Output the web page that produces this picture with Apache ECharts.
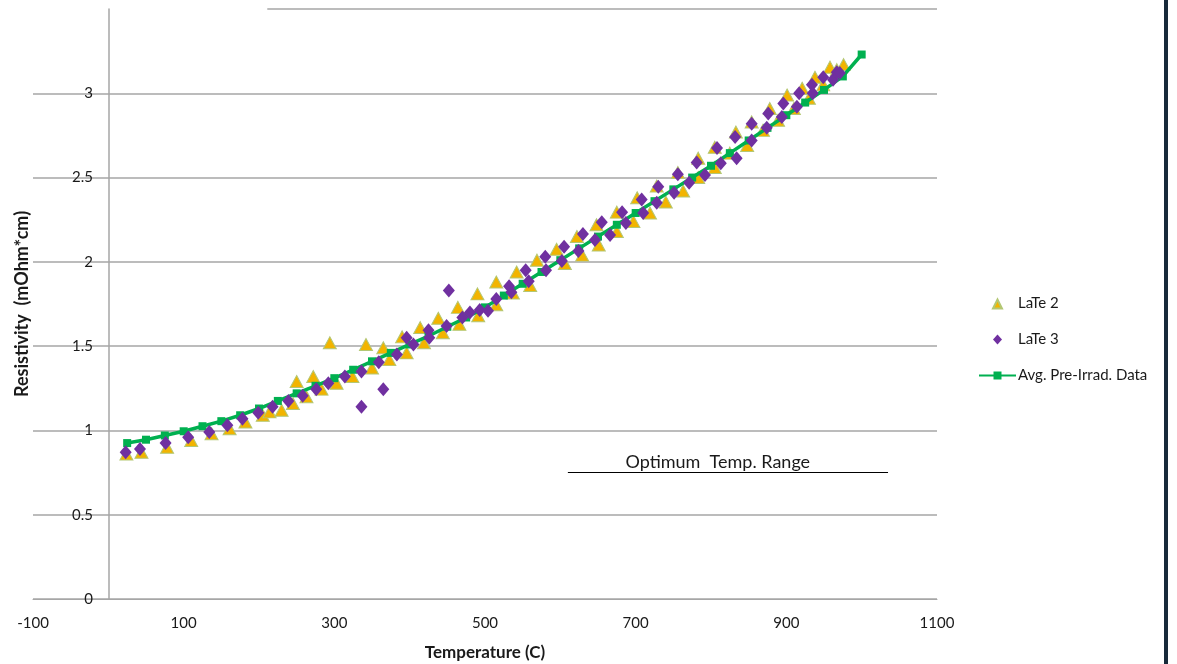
<!DOCTYPE html>
<html>
<head>
<meta charset="utf-8">
<script src="https://cdn.jsdelivr.net/npm/echarts@6/dist/echarts.min.js"></script>
<style>
html,body{margin:0;padding:0;background:#fff;}
#chart{width:1177px;height:664px;}
</style>
</head>
<body>
<div id="chart"></div>
<script>
// Tick settings
var xTicks = {min: -100, max: 1100, interval: 200};
var yTicks = {min: 0, max: 3.5, interval: 0.5};

// LaTe 2 (triangles): [temperature C, resistivity mOhm*cm]
var late2 = [
  [24,0.86],[44,0.87],[78,0.90],[110,0.94],[137,0.98],[161,1.01],[182,1.05],[205,1.09],
  [214,1.11],[230,1.12],[245,1.16],[250,1.29],[263,1.20],[272,1.32],[283,1.245],[294,1.52],
  [303,1.28],[324,1.32],[342,1.51],[350,1.37],[365,1.49],[373,1.42],
  [390,1.555],[396,1.46],[414,1.61],[419,1.52],[438,1.665],[444,1.58],[464,1.73],[466,1.63],
  [490,1.81],[491,1.68],[515,1.88],[515,1.745],[537,1.815],[542,1.94],[560,1.86],[569,2.01],
  [595,2.075],[606,1.99],[622,2.15],[629,2.04],[648,2.22],[651,2.10],[675,2.295],[675,2.18],
  [697,2.24],[702,2.38],
  [719,2.29],[728,2.45],[740,2.355],[756,2.53],[763,2.42],[783,2.615],[783,2.50],[805,2.68],
  [805,2.56],[825,2.645],[833,2.77],[848,2.69],[854,2.83],[869,2.78],[878,2.91],[889,2.84],
  [901,2.99],[910,2.91],[921,3.03],[930,2.97],[938,3.095],[949,3.05],[958,3.155],[967,3.14],
  [976,3.17]
];

// LaTe 3 (diamonds)
var late3 = [
  [23,0.87],[42,0.89],[76,0.925],[106,0.96],[134,0.99],[158,1.03],[178,1.07],[199,1.105],
  [218,1.14],[239,1.175],[258,1.205],[276,1.245],[292,1.28],[314,1.32],[336,1.35],[336,1.14],
  [359,1.405],[365,1.245],[383,1.45],
  [396,1.55],[405,1.51],[425,1.595],[426,1.55],[449,1.62],[452,1.83],[470,1.67],[480,1.70],
  [493,1.715],[504,1.71],[515,1.78],[532,1.855],[535,1.82],[554,1.95],[558,1.885],[580,2.03],
  [581,1.95],[602,2.005],[605,2.09],[624,2.065],[630,2.165],[646,2.13],[655,2.235],[666,2.16],
  [682,2.295],[687,2.23],[708,2.37],[710,2.29],
  [728,2.35],[730,2.445],[751,2.41],[756,2.52],[771,2.47],[781,2.59],[792,2.515],[808,2.675],
  [813,2.585],[832,2.74],[834,2.615],[854,2.82],[854,2.72],[874,2.795],[876,2.88],[894,2.86],
  [896,2.94],[914,2.92],[917,3.0],[934,3.05],[935,3.0],[949,3.095],[962,3.08],[967,3.125],
  [971,3.12]
];

// Avg. Pre-Irrad. Data
var avgT = [25,50,75,100,125,150,175,200,225,250,275,300,325,350,375,400,425,450,475,500,
            525,550,575,600,625,650,675,700,725,750,775,800,825,850,875,900,925,950,975,1000];
var avgR = [0.925,0.945,0.97,0.995,1.025,1.055,1.09,1.13,1.175,1.22,1.265,1.31,1.36,1.41,1.46,1.51,1.56,1.615,1.67,1.73,
            1.80,1.87,1.94,2.01,2.08,2.15,2.22,2.29,2.36,2.43,2.50,2.57,2.645,2.72,2.795,2.87,2.945,3.02,3.10,3.23];

// Annotation: optimum temperature range
var optRange = {from: 610, to: 1035, level: 0.75, labelAt: 809, text: 'Optimum  Temp. Range'};
// Partial top gridline in the reference
var topLine = {from: 211, to: 1100, level: 3.5};

var avgData = avgT.map(function(t, i){ return [t, avgR[i]]; });

// Legend icons padded to the 37x10 legend box so they keep their shape
var legendTriangle = 'path://M0,10L0,10M37,0L37,0M14,10L18.5,1L23,10Z';
var legendDiamond = 'path://M0,10L0,10M37,0L37,0M18.5,0L23,5L18.5,10L14,5Z';

var FONT = 'Lato';
var chart = echarts.init(document.getElementById('chart'), null, {renderer: 'canvas'});
chart.setOption({
  animation: false,
  backgroundColor: '#ffffff',
  textStyle: {fontFamily: FONT},
  grid: {left: 33, right: 240, top: 9, bottom: 65, containLabel: false, outerBoundsMode: 'none'},
  xAxis: {
    type: 'value', min: xTicks.min, max: xTicks.max, interval: xTicks.interval,
    name: 'Temperature (C)', nameLocation: 'middle', nameGap: 45,
    nameTextStyle: {fontFamily: FONT, fontSize: 17, fontWeight: 'bold', color: '#1a1a1a'},
    axisLine: {show: true, onZero: false, lineStyle: {color: '#a6a6a6', width: 1}},
    axisTick: {show: false},
    axisLabel: {fontFamily: FONT, fontSize: 15, color: '#1a1a1a', margin: 17,
      formatter: function(v){ return String(v); }},
    splitLine: {show: false}
  },
  yAxis: {
    type: 'value', min: yTicks.min, max: yTicks.max, interval: yTicks.interval,
    name: 'Resistivity  (mOhm*cm)', nameLocation: 'middle', nameGap: 2, nameRotate: 90,
    nameTextStyle: {fontFamily: FONT, fontSize: 18, fontWeight: 'bold', color: '#1a1a1a'},
    axisLine: {show: true, onZero: true, lineStyle: {color: '#a6a6a6', width: 1.5}},
    axisTick: {show: false},
    axisLabel: {fontFamily: FONT, fontSize: 15, color: '#1a1a1a', margin: -60,
      formatter: function(v){ return v === yTicks.max ? '' : String(v); }},
    splitLine: {show: true, showMaxLine: false, lineStyle: {color: '#a6a6a6', width: 1.5}}
  },
  legend: {
    orient: 'vertical', left: 973, top: 291, itemWidth: 37, itemHeight: 10, itemGap: 21,
    textStyle: {fontFamily: FONT, fontSize: 15, color: '#1a1a1a', padding: [0,0,0,-3]},
    data: [
      {name: 'LaTe 2', icon: legendTriangle},
      {name: 'LaTe 3', icon: legendDiamond},
      {name: 'Avg. Pre-Irrad. Data'}
    ]
  },
  series: [
    {
      name: 'LaTe 2', type: 'scatter', data: late2, z: 2,
      symbol: 'triangle', symbolSize: [13, 12],
      itemStyle: {color: '#F2B400', borderColor: '#B3C774', borderWidth: 1, opacity: 1}
    },
    {
      name: 'Avg. Pre-Irrad. Data', type: 'line', data: avgData, z: 3,
      symbol: 'rect', symbolSize: 8, showSymbol: true,
      lineStyle: {color: '#00B050', width: 3.5},
      itemStyle: {color: '#00B050'},
      markLine: {
        silent: true, symbol: 'none', animation: false,
        lineStyle: {color: '#000000', width: 1, type: 'solid'},
        label: {show: false},
        data: [[{coord: [optRange.from, optRange.level]}, {coord: [optRange.to, optRange.level]}]]
      },
      markPoint: {
        silent: true, symbol: 'rect', symbolSize: 0,
        label: {show: true, position: 'top', distance: 1, formatter: optRange.text,
          fontFamily: FONT, fontSize: 18, color: '#1a1a1a'},
        data: [{coord: [optRange.labelAt, optRange.level]}]
      }
    },
    {
      name: 'LaTe 3', type: 'scatter', data: late3, z: 4,
      symbol: 'diamond', symbolSize: [12, 14],
      itemStyle: {color: '#7030A0', opacity: 1}
    },
    {
      name: 'topline', type: 'line', data: [], silent: true,
      markLine: {
        silent: true, symbol: 'none', animation: false,
        lineStyle: {color: '#a6a6a6', width: 1.5, type: 'solid'},
        label: {show: false},
        data: [[{coord: [topLine.from, topLine.level]}, {coord: [topLine.to, topLine.level]}]]
      }
    }
  ],
  graphic: [
    {type: 'rect', right: 9, top: 0, shape: {width: 4, height: 664}, style: {fill: '#172a3a'}}
  ]
});
</script>
</body>
</html>
